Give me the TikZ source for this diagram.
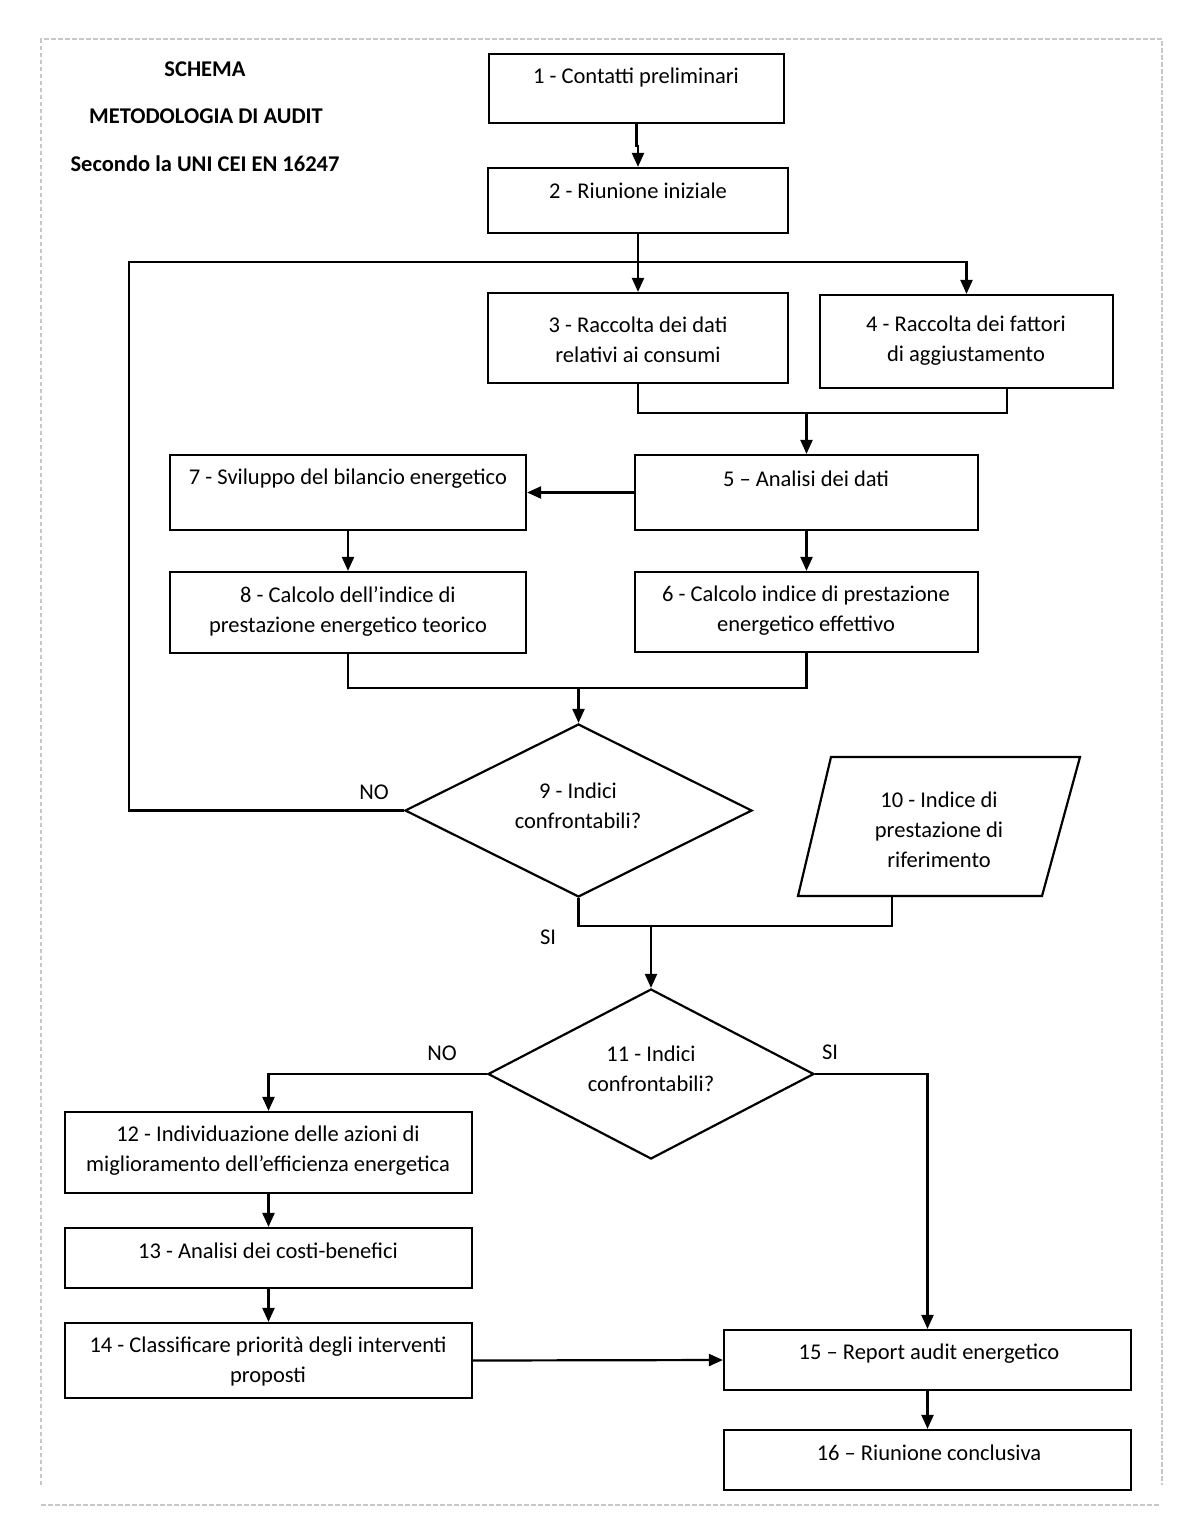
\documentclass[tikz,border=0pt]{standalone}
\usepackage{fontspec}
\setmainfont{Carlito}
\usetikzlibrary{shapes.geometric,arrows.meta}
\begin{document}
\begin{tikzpicture}[x=1pt,y=-1pt,
 box/.style={draw, line width=2.2pt, inner sep=0pt},
 dia/.style={draw, shape=diamond, line width=2.2pt, inner sep=0pt},
 txt/.style={font=\fontsize{22.5}{30}\selectfont, align=center, inner sep=0pt},
 ttl/.style={font=\fontsize{22.5}{26}\selectfont\bfseries, inner sep=0pt},
 conn/.style={line width=2.2pt},
 arr/.style={conn, -{Triangle[length=14pt,width=12pt]}},
 marg/.style={draw={rgb,255:red,200;green,200;blue,200}, line width=1.3pt, dash pattern=on 4.5pt off 2.5pt}]
\useasboundingbox (0,0) rectangle (1200,1540);
\fill[white] (0,0) rectangle (1200,1540);
% page margin marks
\draw[marg] (41,1485) -- (41,39) -- (1162,39) -- (1162,1485);
\draw[marg] (41,1505) -- (1160,1505);
% title
\node[ttl] (title1) at (205,69) {SCHEMA};
\node[ttl] (title2) at (206,116) {METODOLOGIA DI AUDIT};
\node[ttl] (title3) at (205,164) {Secondo la UNI CEI EN 16247};
% boxes
\node[box, minimum width=295pt, minimum height=69pt] (b1) at (636.5,88.5) {};
\node[txt] (t1) at (636,77) {1 - Contatti preliminari};
\node[box, minimum width=300pt, minimum height=65pt] (b2) at (638,200.5) {};
\node[txt] (t2) at (638,191) {2 - Riunione iniziale};
\node[box, minimum width=300pt, minimum height=90pt] (b3) at (638,338) {};
\node[txt] (t3) at (638,340) {3 - Raccolta dei dati\\relativi ai consumi};
\node[box, minimum width=293pt, minimum height=93pt] (b4) at (966.5,341.5) {};
\node[txt] (t4) at (966,341) {4 - Raccolta dei fattori\\di aggiustamento};
\node[box, minimum width=343pt, minimum height=75pt] (b5) at (806.5,492.5) {};
\node[txt] (t5) at (806,479) {5 -- Analisi dei dati};
\node[box, minimum width=356pt, minimum height=75pt] (b7) at (348,492.5) {};
\node[txt] (t7) at (348,479) {7 - Sviluppo del bilancio energetico};
\node[box, minimum width=356pt, minimum height=81pt] (b8) at (348,612.5) {};
\node[txt] (t8) at (348,611) {8 - Calcolo dell’indice di\\prestazione energetico teorico};
\node[box, minimum width=343pt, minimum height=80pt] (b6) at (806.5,612) {};
\node[txt] (t6) at (806,611) {6 - Calcolo indice di prestazione\\energetico effettivo};
% decision 9
\node[dia, minimum width=347pt, minimum height=173pt] (d9) at (578.5,810.5) {};
\node[txt] (t9) at (578,806) {9 - Indici\\confrontabili?};
% parallelogram 10
\draw[line width=2.2pt] (831,757) -- (1080,757) -- (1042,896) -- (798,896) -- cycle;
\coordinate (p10b) at (892,896);
\node[txt] (t10) at (939,830) {10 - Indice di\\prestazione di\\riferimento};
% decision 11
\node[dia, minimum width=326pt, minimum height=170pt] (d11) at (651,1074) {};
\node[txt] (t11) at (651,1069) {11 - Indici\\confrontabili?};
% lower boxes
\node[box, minimum width=407pt, minimum height=81pt] (b12) at (268.5,1152.5) {};
\node[txt] (t12) at (268,1151) {12 - Individuazione delle azioni di\\miglioramento dell’efficienza energetica};
\node[box, minimum width=407pt, minimum height=60pt] (b13) at (268.5,1258) {};
\node[txt] (t13) at (268,1251) {13 - Analisi dei costi-benefici};
\node[box, minimum width=407pt, minimum height=75pt] (b14) at (268.5,1360.5) {};
\node[txt] (t14) at (268,1361) {14 - Classificare priorità degli interventi\\proposti};
\node[box, minimum width=407pt, minimum height=60pt] (b15) at (927.5,1360) {};
\node[txt] (t15) at (929,1354) {15 -- Report audit energetico};
\node[box, minimum width=407pt, minimum height=60pt] (b16) at (927.5,1460) {};
\node[txt] (t16) at (929,1453) {16 -- Riunione conclusiva};
% labels
\node[txt] (no9) at (374,792) {NO};
\node[txt] (si9) at (548,937) {SI};
\node[txt] (no11) at (442,1053) {NO};
\node[txt] (si11) at (830,1052) {SI};
% coordinates
\coordinate (cl) at (129,262);
\coordinate (m35) at (806.5,413);
\coordinate (m86) at (578.5,688);
\coordinate (m910) at (651,926);
% connectors
\draw[arr] (b1.south) -- ++(0,22) -| (b2.north);
\draw[arr] (b2.south) -- (b3.north);
\draw[arr] (d9.west) -| (cl) -| (b4.north);
\draw[conn] (b3.south) |- (m35);
\draw[conn] ([xshift=40.5pt]b4.south) |- (m35);
\draw[arr] (m35) -- (b5.north);
\draw[arr] (b5.west) -- (b7.east);
\draw[arr] (b7.south) -- (b8.north);
\draw[arr] (b5.south) -- (b6.north);
\draw[conn] (b8.south) |- (m86) -| (b6.south);
\draw[arr] (m86) -- (d9.north);
\draw[conn] (d9.south) |- (m910) -| (p10b);
\draw[arr] (m910) -- (d11.north);
\draw[arr] (d11.west) -| (b12.north);
\draw[arr] (d11.east) -| (b15.north);
\draw[arr] (b12.south) -- (b13.north);
\draw[arr] (b13.south) -- (b14.north);
\draw[arr] (b14.east) -- (b15.west);
\draw[arr] (b15.south) -- (b16.north);
\end{tikzpicture}
\end{document}
